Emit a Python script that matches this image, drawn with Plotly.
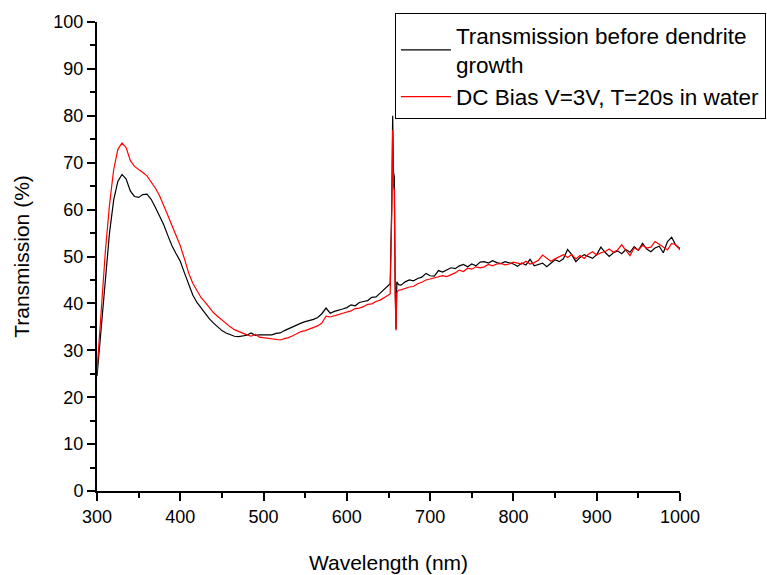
import plotly.graph_objects as go

# Wavelength sampling (nm)
wavelength = [
    300, 305, 310, 315, 320, 325, 330, 335, 340, 345,
    350, 355, 360, 365, 370, 375, 380, 385, 390, 395,
    400, 405, 410, 415, 420, 425, 430, 435, 440, 445,
    450, 455, 460, 465, 470, 475, 480, 485, 490, 495,
    500, 505, 510, 515, 520, 525, 530, 535, 540, 545,
    550, 555, 560, 565, 570, 575, 580, 585, 590, 595,
    600, 605, 610, 615, 620, 625, 630, 635, 640, 645,
    650, 652, 654, 655, 656, 657, 658, 659, 660, 662,
    665, 670, 675, 680, 685, 690, 695, 700, 705, 710,
    715, 720, 725, 730, 735, 740, 745, 750, 755, 760,
    765, 770, 775, 780, 785, 790, 795, 800, 805, 810,
    815, 820, 825, 830, 835, 840, 845, 850, 855, 860,
    865, 870, 875, 880, 885, 890, 895, 900, 905, 910,
    915, 920, 925, 930, 935, 940, 945, 950, 955, 960,
    965, 970, 975, 980, 985, 990, 995, 1000,
]

# Transmission (%) before dendrite growth
t_before = [
    24.5, 35.0, 46.0, 55.0, 62.0, 66.0, 67.5, 66.5, 64.0, 62.8,
    62.6, 63.2, 63.3, 62.2, 60.5, 58.8, 56.8, 54.5, 52.3, 50.6,
    49.0, 46.5, 44.0, 41.8, 40.2, 39.0, 37.8, 36.7, 35.8, 35.0,
    34.2, 33.7, 33.4, 33.0, 32.9, 33.0, 33.2, 33.7, 33.2, 33.3,
    33.3, 33.4, 33.3, 33.6, 33.7, 34.2, 34.6, 35.0, 35.5, 35.8,
    36.1, 36.3, 36.6, 37.0, 37.8, 39.0, 37.9, 38.3, 38.5, 38.8,
    39.1, 39.7, 39.5, 40.2, 40.4, 40.6, 41.3, 41.4, 42.2, 43.0,
    43.9, 44.2, 62.0, 80.0, 68.0, 67.0, 44.0, 34.5, 44.6, 44.0,
    43.9, 44.6, 45.0, 44.8, 45.3, 45.6, 46.4, 45.9, 45.8, 47.0,
    46.7, 47.2, 47.6, 47.4, 48.0, 48.3, 47.8, 48.4, 48.0, 48.8,
    48.9, 48.6, 49.1, 48.7, 48.5, 48.9, 48.6, 48.4, 47.9, 48.6,
    48.2, 49.4, 48.0, 48.3, 48.6, 47.8, 48.6, 49.3, 48.9, 49.5,
    51.5, 50.4, 48.9, 49.8, 50.4, 50.0, 49.6, 50.4, 52.0, 50.9,
    50.0, 50.8, 51.2, 50.6, 51.5, 50.9, 52.1, 51.3, 52.8, 51.6,
    51.0, 51.8, 52.2, 50.8, 53.2, 54.1, 52.4, 51.7,
]

# Transmission (%) after DC bias V=3V, T=20s in water
t_dc_bias = [
    25.5, 38.0, 51.0, 61.0, 68.5, 72.8, 74.2, 73.2, 70.5, 69.2,
    68.6, 67.9, 67.2, 66.0, 64.6, 63.0, 61.0, 58.8, 56.6, 54.4,
    52.3, 49.5, 46.5, 44.3, 42.6, 41.2, 40.2, 39.0, 38.0, 37.2,
    36.4, 35.6, 35.0, 34.4, 34.0, 33.6, 33.3, 33.0, 33.4, 32.8,
    32.7, 32.6, 32.4, 32.3, 32.2, 32.5, 32.7, 33.1, 33.6, 34.0,
    34.2, 34.5, 34.8, 35.2, 35.8, 37.3, 37.1, 37.3, 37.6, 37.9,
    38.2, 38.4, 38.9, 39.0, 39.3, 39.8, 39.9, 40.4, 40.7, 41.2,
    41.8, 42.0, 60.0, 77.0, 65.0, 64.0, 42.0, 34.3, 42.3, 42.8,
    42.9, 43.2, 43.5, 43.6, 44.2, 44.5, 45.0, 45.2, 45.4, 45.7,
    45.9, 45.7, 46.1, 46.5, 47.1, 46.8, 47.5, 47.3, 47.8, 47.6,
    47.8, 48.3, 48.0, 48.4, 48.5, 48.2, 48.4, 48.8, 48.6, 48.4,
    49.0, 48.4, 48.7, 49.2, 50.3, 49.6, 49.0, 49.5, 49.9, 50.4,
    49.8, 50.4, 49.5, 50.2, 49.6, 50.5, 51.0, 50.3, 50.8, 51.0,
    51.6, 50.9, 51.4, 52.5, 51.3, 50.2, 51.8, 51.4, 52.4, 51.8,
    52.0, 53.2, 52.6, 52.0, 51.4, 52.8, 52.5, 51.4,
]

series_names = [
    "Transmission before dendrite<br>growth",
    "DC Bias V=3V, T=20s in water",
]

font_family = "Liberation Sans, Arial, sans-serif"

fig = go.Figure()
fig.add_trace(go.Scatter(
    x=wavelength, y=t_before, mode="lines", name=series_names[0],
    line=dict(color="black", width=1.2),
))
fig.add_trace(go.Scatter(
    x=wavelength, y=t_dc_bias, mode="lines", name=series_names[1],
    line=dict(color="red", width=1.2),
))

axis_common = dict(
    showline=True, linecolor="black", linewidth=2,
    showgrid=False, zeroline=False, automargin=False,
    ticks="outside", ticklen=8, tickwidth=1.5, tickcolor="black",
    tickfont=dict(family=font_family, size=18, color="black"),
    mirror=False,
)

fig.update_xaxes(
    range=[300, 1000], dtick=100, tick0=300,
    minor=dict(ticks="outside", ticklen=5, tickwidth=1.5, tickcolor="black", dtick=50),
    title=dict(text="Wavelength (nm)", font=dict(family=font_family, size=21, color="black"), standoff=30),
    **axis_common,
)
fig.update_yaxes(
    range=[0, 100], dtick=10, tick0=0,
    minor=dict(ticks="outside", ticklen=5, tickwidth=1.5, tickcolor="black", dtick=5),
    title=dict(text="Transmission (%)", font=dict(family=font_family, size=21, color="black"), standoff=18),
    **axis_common,
)

fig.update_layout(
    width=767, height=575,
    margin=dict(l=97, r=87, t=22, b=84, autoexpand=False),
    paper_bgcolor="white", plot_bgcolor="white",
    font=dict(family=font_family, color="black"),
    legend=dict(
        x=0.511, y=1.019, xanchor="left", yanchor="top",
        bgcolor="white", bordercolor="black", borderwidth=1,
        font=dict(family=font_family, size=22.5, color="black"),
        itemwidth=50, tracegroupgap=0,
    ),
    showlegend=True,
)

fig.write_html("out.html")
